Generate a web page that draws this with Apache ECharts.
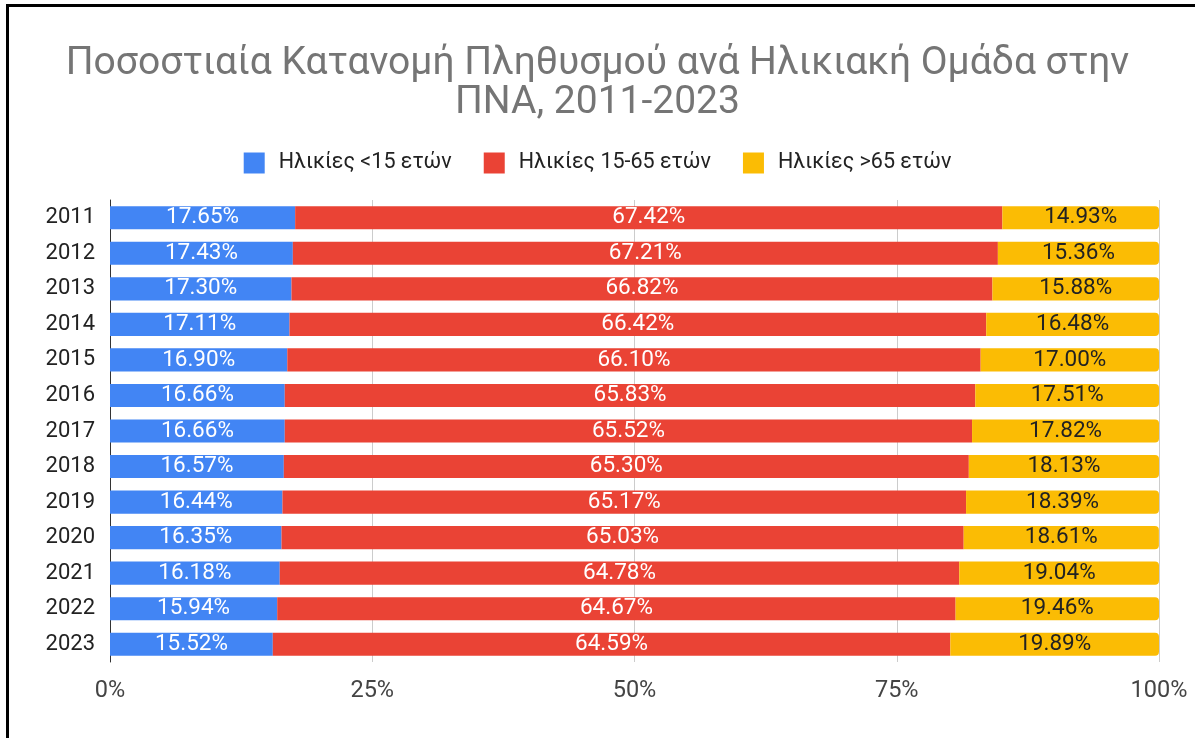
<!DOCTYPE html>
<html>
<head>
  <meta charset="utf-8">
  <title>Ποσοστιαία Κατανομή Πληθυσμού</title>
  <script src="https://cdn.jsdelivr.net/npm/echarts@6/dist/echarts.min.js"></script>
  <style>
    html, body { margin: 0; padding: 0; background: #fff; overflow: hidden; }
    #chart { width: 1195px; height: 738px; }
    #frame {
      position: absolute; left: 6px; top: 4px; width: 1210px; height: 760px;
      border: 3px solid #000; pointer-events: none;
    }
  </style>
</head>
<body>
  <div id="chart"></div>
  <div id="frame"></div>
  <script>
    // δεδομένα
    const years = ['2011', '2012', '2013', '2014', '2015', '2016', '2017', '2018', '2019', '2020', '2021', '2022', '2023'];
    const under15 = [17.65, 17.43, 17.30, 17.11, 16.90, 16.66, 16.66, 16.57, 16.44, 16.35, 16.18, 15.94, 15.52];
    const age15to65 = [67.42, 67.21, 66.82, 66.42, 66.10, 65.83, 65.52, 65.30, 65.17, 65.03, 64.78, 64.67, 64.59];
    const over65 = [14.93, 15.36, 15.88, 16.48, 17.00, 17.51, 17.82, 18.13, 18.39, 18.61, 19.04, 19.46, 19.89];
    const seriesNames = ['Ηλικίες <15 ετών', 'Ηλικίες 15-65 ετών', 'Ηλικίες >65 ετών'];
    const xTicks = [0, 25, 50, 75, 100];

    const font = 'Roboto';
    var myChart = echarts.init(document.getElementById('chart'));

    function barSeries(name, data, color, labelColor, radius) {
      return {
        name: name,
        type: 'bar',
        stack: 'total',
        barCategoryGap: '35%',
        data: data,
        itemStyle: { color: color, borderRadius: radius },
        label: {
          show: true,
          position: 'inside',
          color: labelColor,
          fontFamily: font,
          fontSize: 22.5,
          formatter: p => p.value.toFixed(2) + '%'
        }
      };
    }

    var option = {
      animation: false,
      title: {
        text: 'Ποσοστιαία Κατανομή Πληθυσμού ανά Ηλικιακή Ομάδα στην\nΠΝΑ, 2011-2023',
        left: 'center',
        top: 40,
        textStyle: { fontFamily: font, fontSize: 39, fontWeight: 'normal', color: '#757575', lineHeight: 39 }
      },
      legend: {
        top: 147,
        left: 'center',
        itemWidth: 21,
        itemHeight: 21,
        itemGap: 32,
        icon: 'rect',
        itemStyle: { borderRadius: 3 },
        textStyle: { fontFamily: font, fontSize: 21.5, color: '#222', padding: [0, 0, 0, 9] },
        data: seriesNames
      },
      grid: { left: 110, right: 36, top: 200, bottom: 76 },
      xAxis: {
        type: 'value',
        min: 0, max: 100, interval: 25,
        axisLabel: {
          fontFamily: font, fontSize: 23.5, color: '#444', margin: 17,
          formatter: v => xTicks.includes(v) ? v + '%' : ''
        },
        splitLine: { lineStyle: { color: '#cccccc', width: 1 } },
        axisLine: { show: false },
        axisTick: { show: false }
      },
      yAxis: {
        type: 'category',
        inverse: true,
        data: years,
        axisLabel: { fontFamily: font, fontSize: 22, color: '#222', margin: 15 },
        axisLine: { lineStyle: { color: '#333', width: 1 } },
        axisTick: { show: false }
      },
      series: [
        barSeries(seriesNames[0], under15, '#4285F4', '#ffffff', 0),
        barSeries(seriesNames[1], age15to65, '#EA4335', '#ffffff', 0),
        barSeries(seriesNames[2], over65, '#FBBC04', '#222222', [0, 4, 4, 0])
      ]
    };

    myChart.setOption(option);
  </script>
</body>
</html>
